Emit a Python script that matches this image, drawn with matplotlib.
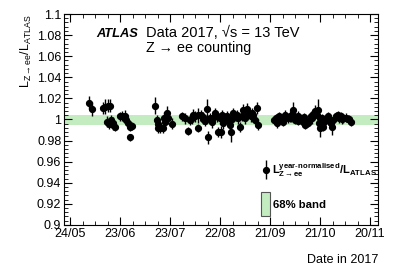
import matplotlib.pyplot as plt
import matplotlib.dates as mdates
import matplotlib.ticker as ticker
import pandas as pd

plt.rcParams['font.family'] = ['Liberation Sans', 'DejaVu Sans']
plt.rcParams['mathtext.fontset'] = 'custom'
plt.rcParams['mathtext.rm'] = 'Liberation Sans'
plt.rcParams['mathtext.it'] = 'Liberation Sans:italic'
plt.rcParams['mathtext.bf'] = 'Liberation Sans:bold'
plt.rcParams['mathtext.fallback'] = 'stixsans'

# fill date (2017, "MM-DD HH"), ratio, uncertainty
dates = [
    '06-04 14', '06-06 00', '06-12 17', '06-14 00', '06-15 00', '06-15 12',
    '06-16 12', '06-16 17', '06-17 12', '06-18 12', '06-19 00', '06-20 00',
    '06-22 17', '06-24 07', '06-25 17', '06-26 17', '06-27 19', '06-29 00',
    '06-29 06', '06-30 00',
    '07-14 00', '07-15 00', '07-15 14', '07-16 00', '07-17 00', '07-18 19',
    '07-19 14', '07-20 00', '07-21 00', '07-21 14', '07-24 00', '07-30 00',
    '07-31 17',
    '08-03 00', '08-04 00', '08-05 00', '08-06 00', '08-07 00', '08-08 17',
    '08-09 00', '08-10 14', '08-11 12', '08-12 00', '08-13 00', '08-14 00',
    '08-15 00', '08-16 00', '08-17 00', '08-18 00', '08-19 00', '08-20 10',
    '08-21 00', '08-22 00', '08-22 10', '08-23 00', '08-24 00', '08-25 00',
    '08-26 00', '08-27 10', '08-28 00', '08-28 10', '08-29 00', '08-30 00',
    '08-31 10', '09-01 00', '09-02 00', '09-03 00', '09-04 00', '09-05 00',
    '09-06 00', '09-07 00', '09-08 00', '09-09 10', '09-10 10', '09-11 00',
    '09-12 00', '09-13 00', '09-13 12',
    '09-23 12', '09-24 12', '09-25 00', '09-26 02', '09-27 12', '09-28 12',
    '09-29 00', '09-30 00', '10-01 12', '10-02 22', '10-03 12', '10-04 12',
    '10-05 00', '10-06 00', '10-07 14', '10-08 00', '10-09 00', '10-10 14',
    '10-11 12', '10-12 05', '10-13 12', '10-14 14', '10-15 12', '10-16 00',
    '10-17 00', '10-18 05', '10-19 00', '10-19 14', '10-20 05', '10-20 18',
    '10-21 00', '10-22 05', '10-22 18', '10-23 00', '10-24 14', '10-25 14',
    '10-26 00', '10-27 00', '10-27 18', '10-28 05', '10-29 00', '10-30 14',
    '10-31 12', '11-01 05', '11-02 14', '11-03 00', '11-04 00', '11-05 14',
    '11-06 14', '11-07 12', '11-08 14',
]
ratio = [
    1.016, 1.010, 1.011, 1.012, 0.998, 1.013,
    0.996, 1.013, 0.9995, 0.995, 0.997, 0.993,
    1.003, 1.0035, 1.003, 0.9995, 0.997, 0.993,
    0.983, 0.994,
    1.013, 0.9995, 0.992, 0.996, 0.992, 0.992,
    1.001, 0.998, 1.006, 1.001, 0.996, 1.003,
    1.001,
    0.989, 0.9995, 1.001, 1.004, 1.003, 1.004,
    0.992, 1.004, 1.002, 1.000, 0.999, 1.010,
    0.983, 1.001, 0.998, 1.001, 1.006, 1.003,
    0.988, 1.001, 0.988, 1.004, 0.997, 1.002,
    1.003, 0.9985, 0.995, 0.988, 1.000, 1.006,
    1.003, 1.004, 1.001, 0.993, 1.003, 1.009,
    1.001, 1.010, 1.006, 1.003, 1.006, 1.004,
    0.9995, 1.011, 0.995,
    0.9995, 1.001, 0.9965, 1.003, 1.001, 0.998,
    1.000, 1.004, 1.001, 1.003, 1.002, 1.009,
    1.004, 0.9995, 1.003, 0.999, 1.001, 0.998,
    1.002, 0.995, 0.997, 0.999, 1.003, 1.001,
    1.005, 1.008, 1.004, 1.009, 0.9965, 1.001,
    0.9917, 1.001, 0.997, 0.993, 0.9995, 1.003,
    1.000, 0.9975, 0.9965, 0.993, 0.9995, 1.003,
    1.004, 1.001, 1.0035, 1.000, 1.001, 1.0017,
    1.0005, 1.000, 0.998,
]
err = [
    0.006, 0.007, 0.006, 0.007, 0.005, 0.006,
    0.005, 0.006, 0.005, 0.005, 0.005, 0.004,
    0.004, 0.005, 0.006, 0.005, 0.005, 0.004,
    0.003, 0.004,
    0.008, 0.005, 0.005, 0.005, 0.005, 0.005,
    0.006, 0.005, 0.007, 0.005, 0.005, 0.004,
    0.005,
    0.004, 0.005, 0.005, 0.006, 0.005, 0.007,
    0.004, 0.005, 0.005, 0.004, 0.005, 0.009,
    0.006, 0.005, 0.006, 0.005, 0.005, 0.005,
    0.005, 0.005, 0.006, 0.005, 0.006, 0.004,
    0.005, 0.005, 0.005, 0.009, 0.005, 0.005,
    0.004, 0.005, 0.005, 0.005, 0.004, 0.006,
    0.005, 0.006, 0.005, 0.005, 0.005, 0.005,
    0.004, 0.006, 0.005,
    0.004, 0.004, 0.005, 0.004, 0.004, 0.004,
    0.004, 0.005, 0.004, 0.005, 0.004, 0.008,
    0.004, 0.004, 0.005, 0.004, 0.004, 0.005,
    0.004, 0.004, 0.004, 0.004, 0.004, 0.005,
    0.005, 0.006, 0.004, 0.010, 0.005, 0.004,
    0.008, 0.004, 0.004, 0.004, 0.004, 0.004,
    0.004, 0.004, 0.004, 0.008, 0.004, 0.004,
    0.004, 0.004, 0.004, 0.004, 0.004, 0.004,
    0.004, 0.004, 0.004,
]
band_lo, band_hi = 0.995, 1.0045
tick_dates = ['05-24', '06-23', '07-23', '08-22', '09-21', '10-21', '11-20']

x = pd.to_datetime(['2017-' + d + ':00' for d in dates])
ticks = pd.to_datetime(['2017-' + d for d in tick_dates])
arrow = '\u2192'

fig = plt.figure(figsize=(3.98, 2.70), dpi=100)
ax = fig.add_axes([0.161, 0.167, 0.789, 0.781])

ax.axhspan(band_lo, band_hi, color='#c3ecc0', lw=0, zorder=1)
ax.errorbar(x, ratio, yerr=err, fmt='o', color='black', ms=4.2,
            elinewidth=1, capsize=0, zorder=3)

ax.set_xlim(pd.Timestamp('2017-05-20 10:00'), pd.Timestamp('2017-11-24 20:00'))
ax.set_ylim(0.9, 1.1)

ax.xaxis.set_major_locator(ticker.FixedLocator(mdates.date2num(ticks)))
ax.xaxis.set_minor_locator(ticker.AutoMinorLocator(4))
ax.xaxis.set_major_formatter(mdates.DateFormatter('%d/%m'))
ax.yaxis.set_major_locator(ticker.MultipleLocator(0.02))
ax.yaxis.set_minor_locator(ticker.MultipleLocator(0.004))
ax.yaxis.set_major_formatter(ticker.FormatStrFormatter('%g'))
ax.tick_params(which='both', direction='in', top=True, right=True,
               labelsize=9, pad=2)
ax.tick_params(which='major', length=6)
ax.tick_params(which='minor', length=3)

ax.set_ylabel(r'$\mathregular{L_{Z\,' + arrow + r'\,ee}/L_{ATLAS}}$',
              fontsize=9, loc='top', labelpad=2)
ax.set_xlabel('Date in 2017', fontsize=9, loc='right', labelpad=10)

ax.text(0.102, 0.891, 'ATLAS', transform=ax.transAxes, fontsize=9.3,
        fontweight='bold', fontstyle='italic')
ax.text(0.260, 0.891, 'Data 2017, \u221as = 13 TeV',
        transform=ax.transAxes, fontsize=10.5)
ax.text(0.260, 0.82, 'Z ' + arrow + ' ee counting', transform=ax.transAxes,
        fontsize=10.3)

# legend drawn by hand, ROOT style
ax.errorbar([0.642], [0.261], yerr=[0.045], fmt='o', color='black', ms=4.2,
            elinewidth=1, capsize=0, transform=ax.transAxes, clip_on=False)
ax.text(0.662, 0.261,
        r'$\mathbf{L^{year\text{-}normalised}_{Z\,' + arrow
        + r'\,ee}/L_{ATLAS}}$',
        transform=ax.transAxes, fontsize=8, va='center')
ax.add_patch(plt.Rectangle((0.626, 0.043), 0.03, 0.112, transform=ax.transAxes,
                           facecolor='#c3ecc0', edgecolor='#555555', lw=0.8))
ax.text(0.666, 0.095, '68% band', transform=ax.transAxes, fontsize=8.2,
        fontweight='bold', va='center')

fig.savefig('out.png', dpi=100)
